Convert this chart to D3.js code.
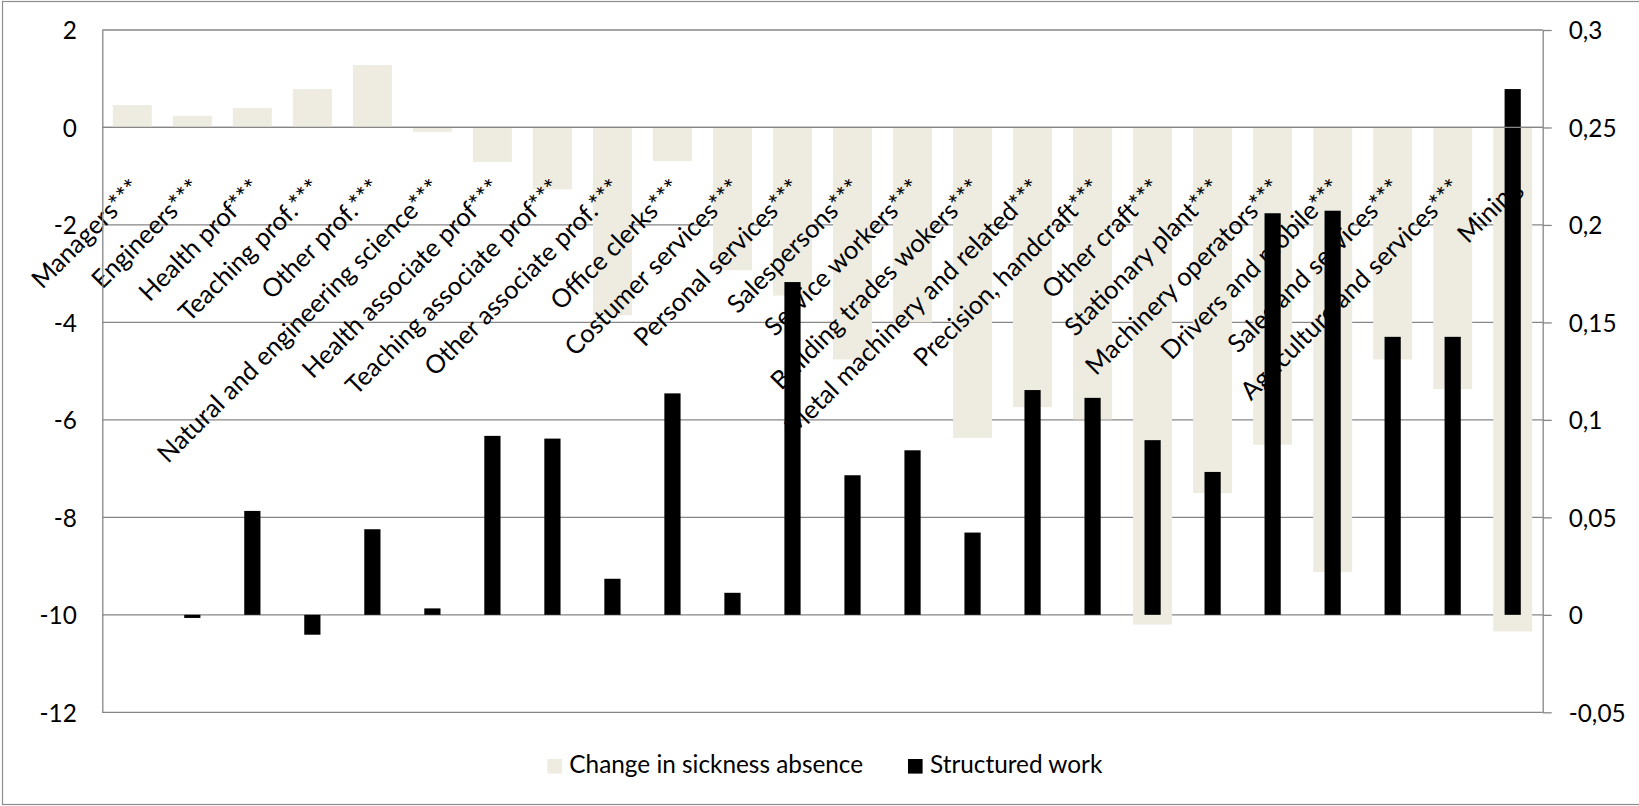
<!DOCTYPE html>
<html>
<head>
<meta charset="utf-8">
<script src="https://cdn.jsdelivr.net/npm/d3@7"></script>
<style>
  html, body { margin: 0; padding: 0; background: #fff; overflow: hidden; }
  svg { display: block; }
</style>
</head>
<body>
<svg id="chart" width="1639" height="806"></svg>
<script>
// Occupational groups (category axis)
const categories = [
  "Managers***", "Engineers***", "Health prof***", "Teaching prof.***", "Other prof.***",
  "Natural and engineering science***", "Health associate prof***", "Teaching associate prof***",
  "Other associate prof.***", "Office clerks***", "Costumer services***", "Personal services***",
  "Salespersons***", "Service workers***", "Building trades wokers***", "Metal machinery and related***",
  "Precision, handcraft***", "Other craft***", "Stationary plant***", "Machinery operators***",
  "Drivers and mobile***", "Sales and services***", "Agriculture and services***", "Mining"
];

// Primary axis series
const sicknessChange = [
  0.46, 0.24, 0.40, 0.79, 1.28,
  -0.09, -0.71, -1.27,
  -3.85, -0.69, -2.93, -3.45,
  -4.76, -4.00, -6.37, -5.74,
  -5.99, -10.20, -7.50, -6.51,
  -9.12, -4.76, -5.37, -10.34
];

// Secondary axis series
const structuredWork = [
  0, -0.0016, 0.0533, -0.0102, 0.0439,
  0.0033, 0.0918, 0.0904,
  0.0185, 0.1136, 0.0113, 0.1707,
  0.0716, 0.0844, 0.0422, 0.1153,
  0.1113, 0.0896, 0.0733, 0.2060,
  0.2073, 0.1426, 0.1426, 0.2697
];

const seriesNames = ["Change in sickness absence", "Structured work"];
const leftTicks = [2, 0, -2, -4, -6, -8, -10, -12];
const rightTicks = [0.3, 0.25, 0.2, 0.15, 0.1, 0.05, 0, -0.05];

// ---- layout & style ----
const W = 1639, H = 806;
const plot = { left: 102.3, right: 1542.7, top: 30, bottom: 712.3 };
const FONT = "Lato, 'Open Sans', sans-serif";
const GRID = "#868686";
const LIGHT = "#EEECE1";
const DARK = "#000000";

const svg = d3.select("#chart");

// size the text so the legend entry spans about 294px
const probe = svg.append("text").attr("font-family", FONT).attr("font-size", 100).text(seriesNames[0]);
const fs = 100 * 294 / probe.node().getComputedTextLength();
probe.remove();
const labelFs = fs * 1.045;

const locale = d3.formatLocale({ decimal: ",", thousands: " ", grouping: [3], currency: ["", ""], minus: "-" });
const fmt = locale.format("~g");

const x = d3.scaleBand().domain(categories).range([plot.left, plot.right]).padding(0);
const yL = d3.scaleLinear().domain([-12, 2]).range([plot.bottom, plot.top]);
const yR = d3.scaleLinear().domain([-0.05, 0.3]).range([plot.bottom, plot.top]);
const bw = x.bandwidth();
const lightW = bw * 0.65;
const darkW = bw * 0.27;

// outer chart frame
svg.append("rect")
  .attr("x", 2.5).attr("y", 1.5).attr("width", W + 10).attr("height", 803)
  .attr("fill", "none").attr("stroke", "#8c8c8c").attr("stroke-width", 1.2);

// horizontal gridlines (primary axis)
svg.append("g").selectAll("line").data(leftTicks).join("line")
  .attr("x1", plot.left).attr("x2", plot.right)
  .attr("y1", d => yL(d)).attr("y2", d => yL(d))
  .attr("stroke", GRID).attr("stroke-width", 1.3);

// sickness absence bars
svg.append("g").selectAll("rect").data(categories).join("rect")
  .attr("x", d => x(d) + (bw - lightW) / 2)
  .attr("width", lightW)
  .attr("y", (d, i) => Math.min(yL(sicknessChange[i]), yL(0)))
  .attr("height", (d, i) => Math.abs(yL(sicknessChange[i]) - yL(0)))
  .attr("fill", LIGHT);

// category labels, rotated, hanging just below the zero line
svg.append("g").selectAll("text").data(categories).join("text")
  .attr("transform", d => `translate(${x(d) + bw / 2 - 3},177) rotate(-45)`)
  .attr("text-anchor", "end")
  .attr("dy", "0.72em")
  .attr("font-family", FONT).attr("font-size", labelFs).attr("fill", "#000")
  .text(d => d);

// structured work bars (secondary axis)
svg.append("g").selectAll("rect").data(categories).join("rect")
  .attr("x", d => x(d) + (bw - darkW) / 2)
  .attr("width", darkW)
  .attr("y", (d, i) => Math.min(yR(structuredWork[i]), yR(0)))
  .attr("height", (d, i) => Math.abs(yR(structuredWork[i]) - yR(0)))
  .attr("fill", DARK);

// category axis line at zero
svg.append("line")
  .attr("x1", plot.left).attr("x2", plot.right)
  .attr("y1", yL(0)).attr("y2", yL(0))
  .attr("stroke", GRID).attr("stroke-width", 1.3);

// left value axis
const axL = svg.append("g").attr("transform", `translate(${plot.left},0)`)
  .call(d3.axisLeft(yL).tickValues(leftTicks).tickFormat(fmt).tickSizeInner(0).tickSizeOuter(0).tickPadding(25.5));
axL.select(".domain").attr("stroke", GRID).attr("stroke-width", 1.3);
axL.selectAll("text").attr("font-family", FONT).attr("font-size", fs).attr("fill", "#000").attr("dy", "0.36em");

// right value axis
const axR = svg.append("g").attr("transform", `translate(${plot.right},0)`)
  .call(d3.axisRight(yR).tickValues(rightTicks).tickFormat(fmt).tickSizeInner(9).tickSizeOuter(0).tickPadding(17));
axR.select(".domain").attr("stroke", GRID).attr("stroke-width", 1.3);
axR.selectAll(".tick line").attr("stroke", GRID).attr("stroke-width", 1.3);
axR.selectAll("text").attr("font-family", FONT).attr("font-size", fs).attr("fill", "#000").attr("dy", "0.36em");

// legend
const legendItems = [
  { name: seriesNames[0], color: LIGHT, x: 547.3 },
  { name: seriesNames[1], color: DARK, x: 908 }
];
const lg = svg.append("g").selectAll("g").data(legendItems).join("g")
  .attr("transform", d => `translate(${d.x},759)`);
lg.append("rect").attr("width", 14.6).attr("height", 14.6).attr("fill", d => d.color);
lg.append("text").attr("x", 22).attr("y", 14.3)
  .attr("font-family", FONT).attr("font-size", fs).attr("fill", "#000")
  .text(d => d.name);
</script>
</body>
</html>
